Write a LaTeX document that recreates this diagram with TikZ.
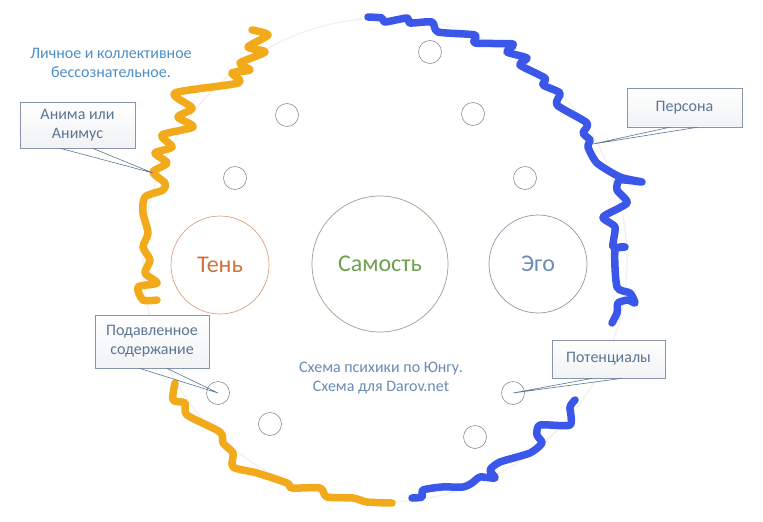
\documentclass[tikz,border=0pt]{standalone}
\usepackage{fontspec}
\setmainfont{Carlito}
\usetikzlibrary{calc}
\definecolor{orgline}{HTML}{F2A91A}
\definecolor{blueline}{HTML}{3A57EA}
\definecolor{boxtext}{HTML}{5B7594}
\definecolor{boxborder}{HTML}{8595AB}
\definecolor{titleblue}{HTML}{4E8FC4}
\definecolor{smallc}{HTML}{8A9099}
\definecolor{shadowc}{HTML}{D0733A}
\definecolor{shadowb}{HTML}{E0A07E}
\definecolor{selfc}{HTML}{6FA050}
\definecolor{selfb}{HTML}{98A68C}
\definecolor{egoc}{HTML}{6B8DB3}
\definecolor{egob}{HTML}{9098A6}
\definecolor{centertext}{HTML}{6A8CB4}
\tikzset{
  squig/.style={line width=7.5pt, line cap=round, line join=round},
  callbox/.style={draw=boxborder, line width=0.6pt, top color=white, bottom color=boxborder!12,
     text=boxtext, font=\fontsize{16}{19}\selectfont, align=center, inner sep=0pt},
  pointer/.style={draw=boxtext, line width=0.6pt, line join=miter},
  smallcirc/.style={circle, draw=smallc, line width=0.6pt, minimum size=23pt, inner sep=0pt},
  bigcirc/.style={circle, line width=0.7pt, inner sep=0pt, font=\fontsize{24}{28}\selectfont},
  plaintext/.style={font=\fontsize{16}{19}\selectfont, align=center, inner sep=0pt}
}
\begin{document}
\begin{tikzpicture}[x=1pt,y=-1pt]
\useasboundingbox (0,0) rectangle (763,522);
\fill[white] (0,0) rectangle (763,522);
% faint outer circle
\node[circle, draw=gray!12, line width=1.2pt, minimum size=484pt, inner sep=0pt] (outer) at (385,260) {};

% main circles
\node[bigcirc, draw=shadowb, minimum size=98pt, text=shadowc] (shadow) at (220,265) {Тень};
\node[bigcirc, draw=selfb, minimum size=136pt, text=selfc] (self) at (380,264) {Самость};
\node[bigcirc, draw=egob, minimum size=98pt, text=egoc] (ego) at (538,264) {Эго};

% small circles
\node[smallcirc] (s1) at (430,52) {};
\node[smallcirc] (s2) at (287,115) {};
\node[smallcirc] (s3) at (473,114) {};
\node[smallcirc] (s4) at (235,178) {};
\node[smallcirc] (s5) at (525,178) {};
\node[smallcirc] (s6) at (218,393) {};
\node[smallcirc] (s7) at (513,393) {};
\node[smallcirc] (s8) at (270,424) {};
\node[smallcirc] (s9) at (475,437) {};

% orange squiggle, left
\draw[squig, orgline] plot[smooth, tension=0.45] coordinates {
 (252,30) (268,35) (248,47) (265,52) (240,63) (250,70) (232,73) (238,83)
 (175,93) (192,108) (178,117) (193,127) (162,135) (172,147) (155,153)
 (167,163) (153,172) (165,183) (163,190) (145,197) (143,213) (148,233)
 (143,247) (150,260) (145,273) (157,283) (138,287) (143,300) (157,300)};
% orange squiggle, bottom
\draw[squig, orgline] plot[smooth, tension=0.45] coordinates {
 (175,383) (173,400) (185,403) (187,415) (220,432) (223,443) (233,453)
 (233,467) (257,473) (287,483) (292,488) (320,488) (327,497) (353,498)
 (367,502) (392,503)};
% blue squiggle, top right
\draw[squig, blueline] plot[smooth, tension=0.4] coordinates {
 (368,17) (382,18) (385,22) (407,18) (410,23) (432,22) (438,32) (475,35)
 (475,43) (513,44) (507,52) (527,58) (520,65) (545,78) (543,85) (560,93)
 (557,105) (587,123) (583,133) (590,140) (588,147) (597,163) (620,177)
 (642,182) (620,180) (617,190) (627,203) (603,217) (615,227) (613,247)
 (625,247) (615,250) (617,287) (630,293) (635,303) (628,300) (618,303)
 (617,313) (612,323)};
% blue squiggle, bottom right
\draw[squig, blueline] plot[smooth, tension=0.4] coordinates {
 (575,400) (570,407) (570,425) (540,425) (537,435) (542,443) (530,453)
 (500,462) (490,470) (495,478) (480,477) (472,483) (463,487) (442,487)
 (423,490) (422,497) (412,498)};

% texts
\node[plaintext, text=titleblue] (title) at (111,63) {Личное и коллективное\\бессознательное.};
\node[plaintext, text=centertext] (caption) at (381,378) {Схема психики по Юнгу.\\Схема для Darov.net};

% callout boxes
\node[callbox, minimum width=115pt, minimum height=46pt] (anima) at (77.5,125) {Анима или\\Анимус};
\node[callbox, minimum width=115pt, minimum height=39pt] (persona) at (684.5,107.5) {Персона};
\node[callbox, minimum width=114pt, minimum height=53pt] (supp) at (152,341.5) {Подавленное\\содержание};
\node[callbox, minimum width=113pt, minimum height=38pt] (poten) at (608.5,359) {Потенциалы};

% pointer tips
\coordinate (tipA) at (153,173);
\coordinate (tipP) at (593,144);
\coordinate (tipS) at (s6.center);
\coordinate (tipT) at (s7.center);

\draw[pointer] ($(anima.south west)!0.35!(anima.south east)$) -- (tipA) -- ($(anima.south west)!0.63!(anima.south east)$);
\draw[pointer] ($(persona.south west)!0.37!(persona.south east)$) -- (tipP) -- ($(persona.south west)!0.61!(persona.south east)$);
\draw[pointer] ($(supp.south west)!0.39!(supp.south east)$) -- (tipS) -- ($(supp.south west)!0.63!(supp.south east)$);
\draw[pointer] ($(poten.south west)!0.36!(poten.south east)$) -- (tipT) -- ($(poten.south west)!0.62!(poten.south east)$);
\end{tikzpicture}
\end{document}
